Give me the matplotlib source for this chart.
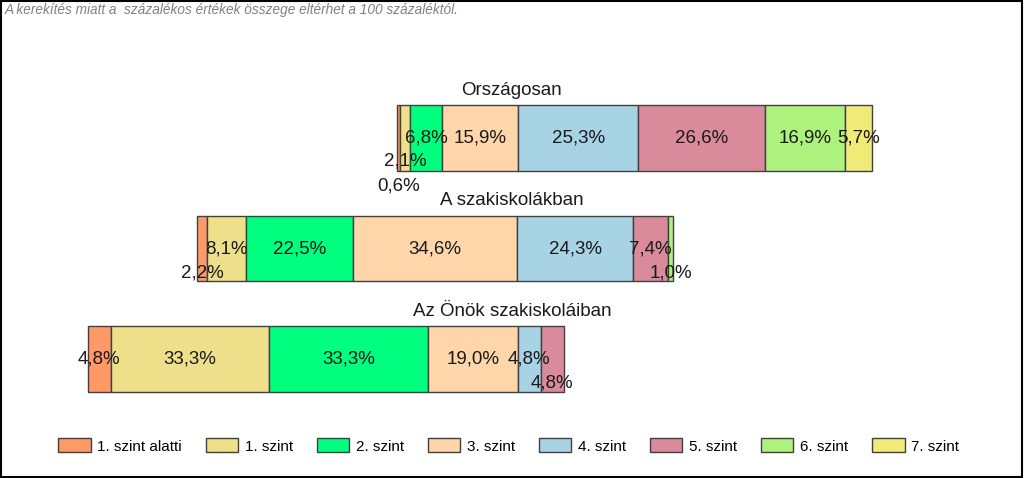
import matplotlib
matplotlib.use('Agg')
import matplotlib.pyplot as plt
from matplotlib.patches import Patch, Rectangle
from matplotlib.transforms import blended_transform_factory

plt.rcParams['font.family'] = ['Liberation Sans', 'DejaVu Sans']

# Adatok
groups = ['Országosan', 'A szakiskolákban', 'Az Önök szakiskoláiban']
levels = ['1. szint alatti', '1. szint', '2. szint', '3. szint',
          '4. szint', '5. szint', '6. szint', '7. szint']
orszagos = [0.6, 2.1, 6.8, 15.9, 25.3, 26.6, 16.9, 5.7]
szakiskolak = [2.2, 8.1, 22.5, 34.6, 24.3, 7.4, 1.0, 0.0]
onok = [4.8, 33.3, 33.3, 19.0, 4.8, 4.8, 0.0, 0.0]
values = [orszagos, szakiskolak, onok]
# a sávok kezdőpontja (%)
starts = [65.0, 22.9, 0.0]

colors = ['#FF9966', '#EEE08A', '#00FF7F', '#FFD5AA',
          '#A8D3E5', '#D98A9B', '#ADF27C', '#F0EA78']

# címkék eltolása (sor, szint) -> függőleges eltolás sávmagasság-egységben
nudge = {(0, 0): 0.43, (0, 1): 0.21, (1, 0): 0.22, (1, 6): 0.22, (2, 5): 0.22}

fig = plt.figure(figsize=(10.24, 4.78), dpi=100)
ax = fig.add_axes([0, 0, 1, 1])
ax.set_xlim(-18.5, 196.8)
ax.set_ylim(3.077, -1.249)
ax.axis('off')

bar_h = 0.597
trans = blended_transform_factory(ax.transAxes, ax.transData)
for i, (vals, x0) in enumerate(zip(values, starts)):
    left = x0
    for j, v in enumerate(vals):
        if v <= 0:
            continue
        ax.barh(i, v, left=left, height=bar_h, color=colors[j],
                edgecolor='#404040', linewidth=1)
        ax.text(left + v / 2, i + nudge.get((i, j), 0), f'{v:.1f}%'.replace('.', ','),
                ha='center', va='center', fontsize=13.5, color='#1a1a1a')
        left += v
    ax.text(0.5, i - 0.434, groups[i], transform=trans, ha='center',
            va='center', fontsize=13.5, color='#1a1a1a')

fig.text(0.005, 1 - 10 / 478, 'A kerekítés miatt a  százalékos értékek összege eltérhet a 100 százaléktól.',
         fontsize=9.8, style='italic', color='#808080', va='center', ha='left')

handles = [Patch(facecolor=c, edgecolor='#404040', label=l) for c, l in zip(colors, levels)]
fig.legend(handles=handles, loc='center', bbox_to_anchor=(0.497, 0.067), ncol=8,
           frameon=False, fontsize=11, handlelength=2.1, handleheight=1.0,
           handletextpad=0.45, columnspacing=1.57)

# keret
fig.patches.append(Rectangle((0.001, 0.002), 0.997, 0.996, transform=fig.transFigure,
                             fill=False, edgecolor='black', linewidth=1.5))

fig.savefig('out.png', dpi=100)
